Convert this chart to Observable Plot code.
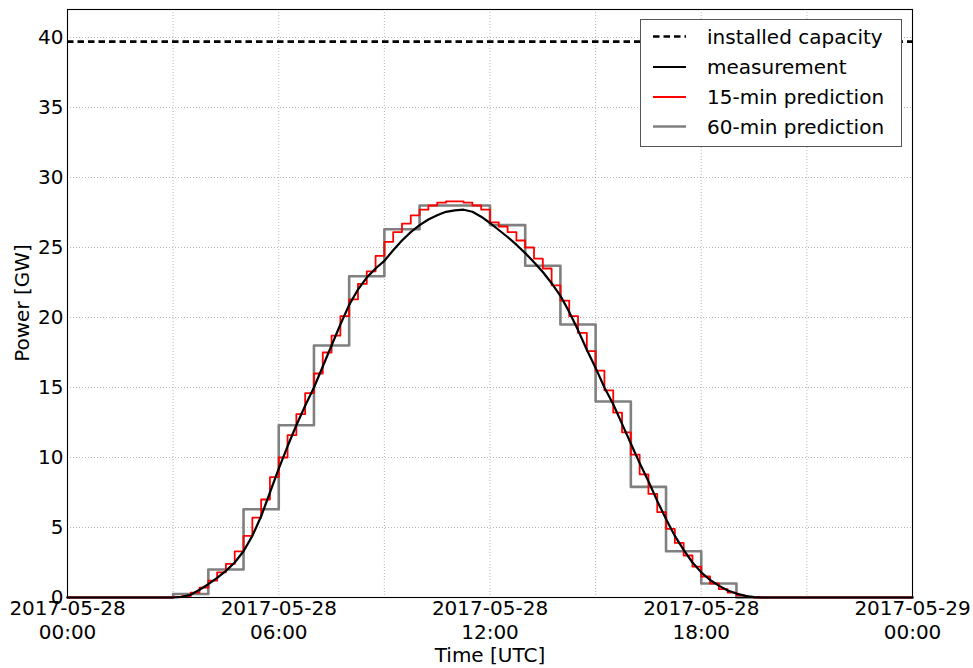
<!DOCTYPE html>
<html>
<head>
<meta charset="utf-8">
<script src="https://cdn.jsdelivr.net/npm/d3@7"></script>
<script src="https://cdn.jsdelivr.net/npm/@observablehq/plot@0.6"></script>
<style>
  html, body { margin: 0; padding: 0; background: #fff; }
  #chart { width: 973px; height: 668px; }
</style>
</head>
<body>
<div id="chart"></div>
<script>
// ---------- data ----------
const installedCapacity = 39.7;

// measurement, quarter-hourly from 03:00 to 20:00 (hours UTC)
const measStart = 3.0, measStep = 0.25;
const measValues = [
  0, 0.05, 0.2, 0.55, 0.95, 1.4, 1.9, 2.5, 3.3, 4.4, 5.8, 7.5,
  9.2, 10.8, 12.3, 13.7, 15.0, 16.5, 18.0, 19.5, 20.9, 22.0, 22.85, 23.5,
  24.05, 24.8, 25.5, 26.1, 26.6, 27.0, 27.3, 27.55, 27.65, 27.7, 27.55, 27.2,
  26.75, 26.25, 25.75, 25.2, 24.6, 23.95, 23.25, 22.45, 21.55, 20.4, 19.1, 17.7,
  16.4, 15.0, 13.8, 12.4, 11.0, 9.6, 8.3, 6.9, 5.6, 4.4, 3.4, 2.5,
  1.8, 1.25, 0.85, 0.5, 0.28, 0.12, 0.03, 0, 0
];

// 15-min prediction, one value per quarter hour starting 03:00
const pred15Start = 3.0, pred15Step = 0.25;
const pred15Values = [
  0.05, 0.1, 0.35, 0.7, 1.2, 1.8, 2.4, 3.3, 4.4, 5.7, 7.0, 8.6,
  10.0, 11.6, 13.1, 14.6, 16.0, 17.5, 18.7, 20.1, 21.3, 22.4, 23.3, 24.4,
  25.4, 26.1, 26.7, 27.3, 27.7, 28.0, 28.2, 28.3, 28.3, 28.2, 28.0, 27.7,
  26.8, 26.5, 26.1, 25.5, 25.0, 24.2, 23.5, 22.3, 21.2, 20.1, 18.9, 17.6,
  16.2, 14.8, 13.2, 11.8, 10.2, 8.8, 7.4, 6.1, 4.9, 3.9, 3.0, 2.2,
  1.5, 1.0, 0.6, 0.35, 0.15, 0.05, 0
];

// 60-min prediction, one value per hour 00:00 .. 23:00
const pred60Values = [
  0, 0, 0, 0.25, 2.0, 6.3, 12.3, 18.0, 22.95, 26.3, 28.0, 28.0,
  26.6, 23.7, 19.5, 14.0, 7.9, 3.3, 1.0, 0, 0, 0, 0, 0
];

const xTickValues = [0, 6, 12, 18, 24];
const xTickLabels = ["2017-05-28\n00:00", "2017-05-28\n06:00", "2017-05-28\n12:00", "2017-05-28\n18:00", "2017-05-29\n00:00"];
const xGridValues = [3, 6, 9, 12, 15, 18, 21];
const yTickValues = [0, 5, 10, 15, 20, 25, 30, 35, 40];
const yGridValues = [5, 10, 15, 20, 25, 30, 35, 40];

const legendItems = ["installed capacity", "measurement", "15-min prediction", "60-min prediction"];

// ---------- tables ----------
const meas = [{t: 0, v: 0}]
  .concat(measValues.map((v, i) => ({t: measStart + i * measStep, v})))
  .concat([{t: 24, v: 0}]);
const pred15 = [{t: 0, v: 0}]
  .concat(pred15Values.map((v, i) => ({t: pred15Start + i * pred15Step, v})))
  .concat([{t: 24, v: 0}]);
const pred60 = pred60Values.map((v, i) => ({t: i, v})).concat([{t: 24, v: 0}]);

const font = "DejaVu Sans, Liberation Sans, sans-serif";

const chart = Plot.plot({
  width: 973,
  height: 668,
  marginLeft: 67,
  marginRight: 61,
  marginTop: 9,
  marginBottom: 71,
  style: {fontFamily: font, fontSize: "20px", background: "#fff", color: "#000"},
  x: {domain: [0, 24]},
  y: {domain: [0, 42]},
  marks: [
    Plot.ruleX(xGridValues, {stroke: "#000", strokeOpacity: 0.4, strokeWidth: 0.7, strokeDasharray: "1,2"}),
    Plot.ruleY(yGridValues, {stroke: "#000", strokeOpacity: 0.4, strokeWidth: 0.7, strokeDasharray: "1,2"}),
    Plot.ruleY([installedCapacity], {stroke: "#000", strokeWidth: 2.7, strokeDasharray: "6.5,4"}),
    Plot.line(pred60, {x: "t", y: "v", curve: "step-after", stroke: "#808080", strokeWidth: 2.6}),
    Plot.line(pred15, {x: "t", y: "v", curve: "step-after", stroke: "#ff0000", strokeWidth: 1.8}),
    Plot.line(meas, {x: "t", y: "v", stroke: "#000", strokeWidth: 2.2}),
    Plot.frame({stroke: "#000", strokeWidth: 1.1}),
    Plot.axisX(xTickValues, {
      tickSize: 0, tickPadding: 1, label: null, fontSize: 20, lineHeight: 1.17,
      tickFormat: (d, i) => xTickLabels[xTickValues.indexOf(d)]
    }),
    Plot.axisY(yTickValues, {tickSize: 0, tickPadding: 4, label: null, fontSize: 20})
  ]
});

document.getElementById("chart").appendChild(chart);

// ---------- axis titles & legend ----------
const svg = d3.select(chart);
svg.append("text")
  .attr("x", 490).attr("y", 662)
  .attr("text-anchor", "middle")
  .attr("font-family", font).attr("font-size", 20).attr("fill", "#000")
  .text("Time [UTC]");
svg.append("text")
  .attr("transform", "translate(29,303) rotate(-90)")
  .attr("text-anchor", "middle")
  .attr("font-family", font).attr("font-size", 20).attr("fill", "#000")
  .text("Power [GW]");

const lg = svg.append("g").attr("text-anchor", "start");
lg.append("rect")
  .attr("x", 640.5).attr("y", 19.5).attr("width", 261).attr("height", 127)
  .attr("fill", "#fff").attr("stroke", "#555").attr("stroke-width", 1);
const legendStyles = [
  {stroke: "#000", width: 2.7, dash: "6.5,4"},
  {stroke: "#000", width: 2.2, dash: null},
  {stroke: "#ff0000", width: 1.8, dash: null},
  {stroke: "#808080", width: 2.6, dash: null}
];
const rowY = [36.5, 67, 97, 126.5];
legendItems.forEach((label, i) => {
  const s = legendStyles[i];
  lg.append("line")
    .attr("x1", 653).attr("x2", 686).attr("y1", rowY[i]).attr("y2", rowY[i])
    .attr("stroke", s.stroke).attr("stroke-width", s.width)
    .attr("stroke-dasharray", s.dash);
  lg.append("text")
    .attr("x", 707).attr("y", rowY[i]).attr("dy", "0.35em")
    .attr("text-anchor", "start")
    .attr("font-family", font).attr("font-size", 20).attr("fill", "#000")
    .text(label);
});
</script>
</body>
</html>
